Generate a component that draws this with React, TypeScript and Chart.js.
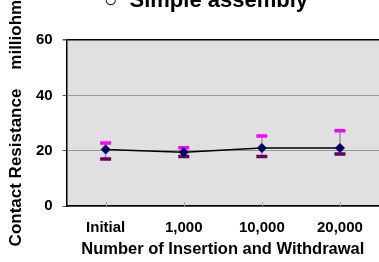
import React, { useEffect, useRef } from "react";
import { Chart, registerables } from "chart.js";

Chart.register(...registerables);

const categories = ["Initial", "1,000", "10,000", "20,000"];
const meanValues = [20.5, 19.5, 21.0, 21.0];
const maxValues = [22.8, 21.1, 25.3, 27.2];
const minValues = [17.0, 17.9, 17.9, 18.8];
const yTicks = [0, 20, 40, 60];

const titleText = "\u25CB  Simple assembly";
const yTitle = "Contact Resistance    milliohm";
const xTitle = "Number of Insertion and Withdrawal";

const FONT = "'Liberation Sans', Arial, sans-serif";

const bgPlugin = {
  id: "plotBg",
  beforeDraw(chart: any) {
    const { ctx, chartArea } = chart;
    ctx.save();
    ctx.fillStyle = "#e0e0e0";
    ctx.fillRect(chartArea.left, chartArea.top, chartArea.right - chartArea.left, chartArea.bottom - chartArea.top);
    ctx.restore();
  },
};

const innerTicks = {
  id: "innerTicks",
  beforeDatasetsDraw(chart: any) {
    const { ctx, chartArea, scales } = chart;
    ctx.save();
    ctx.strokeStyle = "#a0a0a0";
    ctx.lineWidth = 1;
    categories.forEach((_, i) => {
      const x = Math.round(scales.x.getPixelForValue(i)) + 0.5;
      ctx.beginPath();
      ctx.moveTo(x, chartArea.bottom);
      ctx.lineTo(x, chartArea.bottom - 4);
      ctx.stroke();
    });
    ctx.restore();
  },
};

export default function App() {
  const ref = useRef<HTMLCanvasElement | null>(null);
  useEffect(() => {
    if (!ref.current) return;
    const chart = new Chart(ref.current, {
      type: "bar",
      data: {
        labels: categories,
        datasets: [
          {
            type: "line",
            label: "mean",
            data: meanValues,
            borderColor: "#000000",
            borderWidth: 1.5,
            pointStyle: "rectRot",
            pointRadius: 4.5,
            pointBackgroundColor: "#000066",
            pointBorderColor: "#000066",
            pointBorderWidth: 1,
            order: 0,
          } as any,
          {
            type: "line",
            label: "max",
            data: maxValues,
            showLine: false,
            pointStyle: "line",
            pointRadius: 5.5,
            pointBorderWidth: 3.5,
            pointBorderColor: "#ff00ff",
            borderColor: "#ff00ff",
            order: 1,
          } as any,
          {
            type: "line",
            label: "min",
            data: minValues,
            showLine: false,
            pointStyle: "line",
            pointRadius: 5.5,
            pointBorderWidth: 3.5,
            pointBorderColor: "#660066",
            borderColor: "#660066",
            order: 1,
          } as any,
          {
            type: "bar",
            label: "range",
            data: minValues.map((m, i) => [m, maxValues[i]]),
            backgroundColor: "#a0a0a0",
            barThickness: 1,
            order: 3,
          } as any,
        ],
      },
      options: {
        animation: false,
        responsive: false,
        layout: { padding: { left: 4, right: 1, bottom: 3, top: 40 } },
        plugins: {
          legend: { display: false },
          tooltip: { enabled: false },
          title: { display: false },
        },
        scales: {
          x: {
            offset: true,
            grid: { display: false, drawTicks: false },
            border: { display: true, color: "#000", width: 1.5 },
            ticks: {
              color: "#000",
              padding: 13,
              font: { family: FONT, size: 15, weight: "bold" },
            },
            title: {
              display: true,
              text: xTitle,
              color: "#000",
              font: { family: FONT, size: 16.5, weight: "bold" },
              padding: { top: -11, bottom: 0 },
            },
          },
          y: {
            min: 0,
            max: 60,
            afterBuildTicks: (s: any) => {
              s.ticks = yTicks.map((v) => ({ value: v }));
            },
            grid: {
              color: (c: any) => (c.tick && c.tick.value === 60 ? "#000" : "#9a9a9a"),
              lineWidth: (c: any) => (c.tick && c.tick.value === 60 ? 1.5 : 1),
              tickColor: "#555",
              tickLength: 4,
            },
            border: { display: true, color: "#000", width: 1.5 },
            ticks: {
              color: "#000",
              padding: 10,
              font: { family: FONT, size: 15, weight: "bold" },
            },
            title: {
              display: true,
              text: yTitle,
              color: "#000",
              font: { family: FONT, size: 17, weight: "bold" },
              padding: { top: 2.5, bottom: -1 },
            },
          },
        },
      },
      plugins: [bgPlugin, innerTicks],
    });
    return () => chart.destroy();
  }, []);

  return (
    <div style={{ position: "fixed", left: 0, top: 0, width: 379, height: 262, overflow: "hidden", background: "#fff" }}>
      <canvas ref={ref} width={388} height={262} style={{ display: "block", position: "absolute", left: 0, top: 0 }} />
      <div
        style={{
          position: "absolute",
          left: 104,
          top: -11,
          fontFamily: FONT,
          fontWeight: "bold",
          fontSize: 22,
          lineHeight: "22px",
          whiteSpace: "pre",
          color: "#000",
        }}
      >
        {titleText}
      </div>
    </div>
  );
}
